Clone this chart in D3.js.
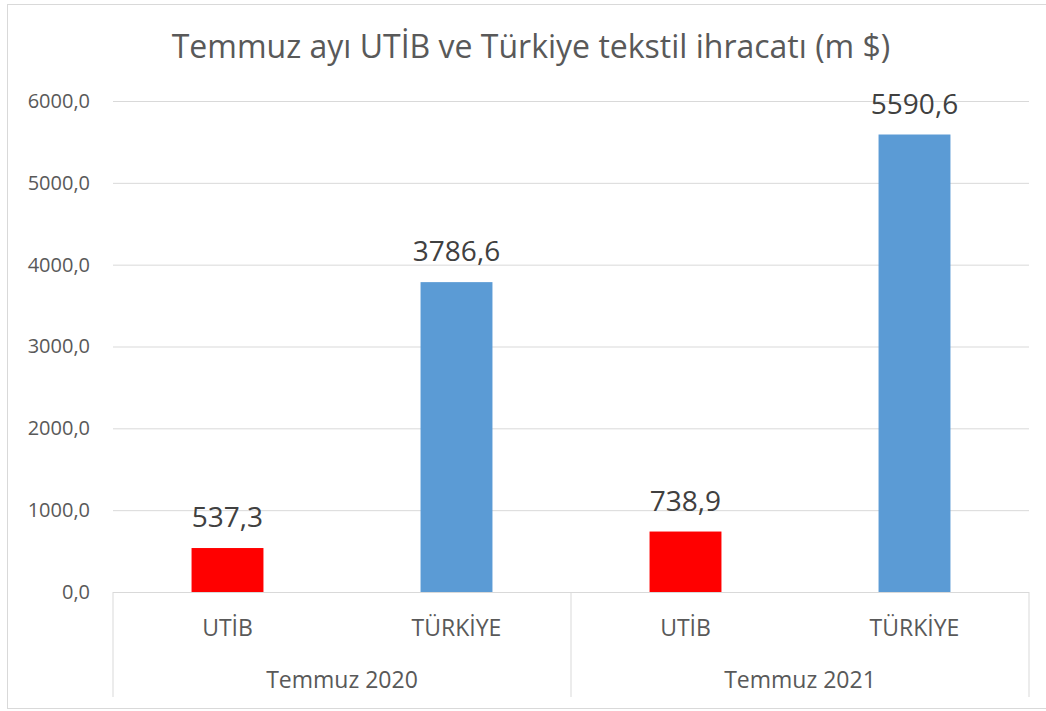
<!DOCTYPE html>
<html>
<head>
<meta charset="utf-8">
<script src="https://cdn.jsdelivr.net/npm/d3@7"></script>
<style>
  body { margin: 0; background: #fff; }
  text { font-family: "Open Sans", Lato, sans-serif; }
</style>
</head>
<body>
<div class="chart"></div>
<script>
// Chart data
const title = "Temmuz ayı UTİB ve Türkiye tekstil ihracatı (m $)";
const groups = ["Temmuz 2020", "Temmuz 2021"];
const series = ["UTİB", "TÜRKİYE"];
const values = [
  [537.3, 3786.6],
  [738.9, 5590.6]
];
const yTicks = [0, 1000, 2000, 3000, 4000, 5000, 6000];
const colors = ["#FF0000", "#5B9BD5"];

// Dimensions
const W = 1046, H = 711;
const margin = { top: 101, right: 17, bottom: 119, left: 113 };
const width = W - margin.left - margin.right,
  height = H - margin.top - margin.bottom;

const svg = d3.select(".chart")
  .append("svg")
  .attr("width", W)
  .attr("height", H);

// Outer frame
svg.append("rect")
  .attr("x", 7.5).attr("y", 4.5)
  .attr("width", W).attr("height", 704)
  .attr("fill", "none")
  .attr("stroke", "#d9d9d9");

// Title
svg.append("text")
  .attr("x", 531)
  .attr("y", 58)
  .attr("text-anchor", "middle")
  .attr("font-size", 32)
  .attr("fill", "#595959")
  .text(title);

const g = svg.append("g")
  .attr("transform", `translate(${margin.left},${margin.top})`);

// Flatten into bars
const bars = [];
groups.forEach((grp, gi) => {
  series.forEach((s, si) => {
    bars.push({ key: grp + "|" + s, group: grp, series: s, si, value: values[gi][si] });
  });
});

const x = d3.scaleBand()
  .domain(bars.map(d => d.key))
  .range([0, width])
  .paddingInner(0.686)
  .paddingOuter(0.343);

const y = d3.scaleLinear()
  .domain([0, 6000])
  .range([height, 0]);

// Gridlines + y-axis labels
const yAxis = g.append("g")
  .call(d3.axisLeft(y)
    .tickValues(yTicks)
    .tickSize(-width)
    .tickPadding(23)
    .tickFormat(d => d3.format(".1f")(d).replace(".", ",")));
yAxis.select(".domain").remove();
yAxis.selectAll(".tick line").attr("stroke", "#d9d9d9");
yAxis.selectAll(".tick text")
  .attr("font-size", 20)
  .attr("fill", "#595959");

// Bars
g.selectAll(".bar")
  .data(bars)
  .join("rect")
  .attr("class", "bar")
  .attr("x", d => x(d.key))
  .attr("y", d => y(d.value))
  .attr("width", x.bandwidth())
  .attr("height", d => height - y(d.value))
  .attr("fill", d => colors[d.si]);

// Data labels
g.selectAll(".label")
  .data(bars)
  .join("text")
  .attr("class", "label")
  .attr("x", d => x(d.key) + x.bandwidth() / 2)
  .attr("y", d => y(d.value) - 21)
  .attr("text-anchor", "middle")
  .attr("font-size", 28)
  .attr("fill", "#404040")
  .text(d => d3.format(".1f")(d.value).replace(".", ","));

// Category axis (two levels)
const axisG = g.append("g").attr("transform", `translate(0,${height})`);
const groupWidth = width / groups.length;

axisG.selectAll(".vline")
  .data(d3.range(groups.length + 1))
  .join("line")
  .attr("x1", i => i * groupWidth)
  .attr("x2", i => i * groupWidth)
  .attr("y1", 0)
  .attr("y2", 105)
  .attr("stroke", "#d9d9d9");

axisG.selectAll(".cat")
  .data(bars)
  .join("text")
  .attr("x", d => x(d.key) + x.bandwidth() / 2)
  .attr("y", 44)
  .attr("text-anchor", "middle")
  .attr("font-size", 23)
  .attr("fill", "#595959")
  .text(d => d.series);

axisG.selectAll(".grp")
  .data(groups)
  .join("text")
  .attr("x", (d, i) => (i + 0.5) * groupWidth)
  .attr("y", 96)
  .attr("text-anchor", "middle")
  .attr("font-size", 23)
  .attr("fill", "#595959")
  .text(d => d);
</script>
</body>
</html>
